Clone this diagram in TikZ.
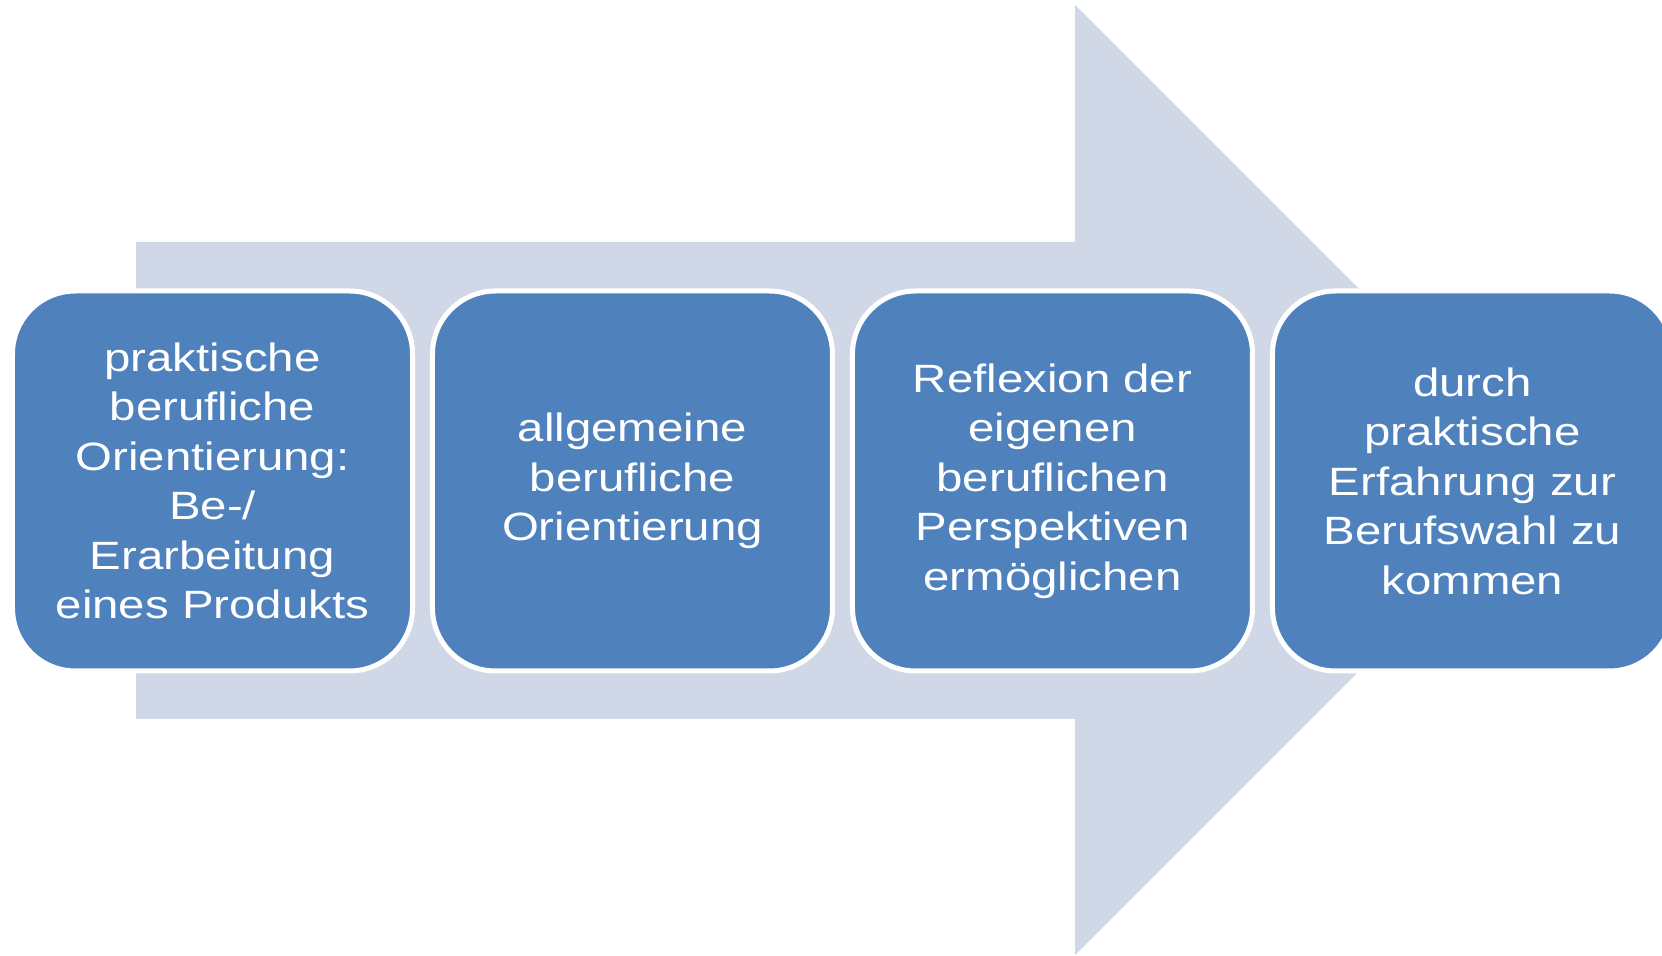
\documentclass[tikz,border=0pt]{standalone}
\usepackage{fontspec}
\setmainfont{Liberation Sans}[FakeStretch=1.2]
\usetikzlibrary{matrix}
\definecolor{arrowfill}{HTML}{D0D8E8}
\definecolor{stagefill}{HTML}{4F81BD}

\begin{document}
\begin{tikzpicture}[x=0.5pt,y=-0.5pt,
  every matrix/.style={ampersand replacement=\&,column sep=7.5pt},
  stage/.style={draw=white,line width=2.5pt,fill=stagefill,rounded corners=31.5pt,
    minimum width=200pt,minimum height=190pt,outer sep=0pt,inner sep=0pt,
    text=white,font=\fontsize{19.75pt}{24.75pt}\selectfont},
  every node/.style={align=center}]

  \useasboundingbox (0,0) rectangle (1662,956);

  % Background block arrow
  \fill[arrowfill] (136,242) -- (1075,242) -- (1075,5) -- (1550,480)
    -- (1075,955) -- (1075,719) -- (136,719) -- cycle;

  % Position the stages using a matrix layout
  \matrix (stages) at (842.5,481) {
    \node[stage] (praxis) {praktische\\berufliche\\Orientierung:\\Be-/\\Erarbeitung\\eines Produkts};
    \& \node[stage] (allgemein) {allgemeine\\berufliche\\Orientierung};
    \& \node[stage] (reflexion) {Reflexion der\\eigenen\\beruflichen\\Perspektiven\\ermöglichen};
    \& \node[stage] (berufswahl) {durch\\praktische\\Erfahrung zur\\Berufswahl zu\\kommen}; \\
  };
\end{tikzpicture}
\end{document}
